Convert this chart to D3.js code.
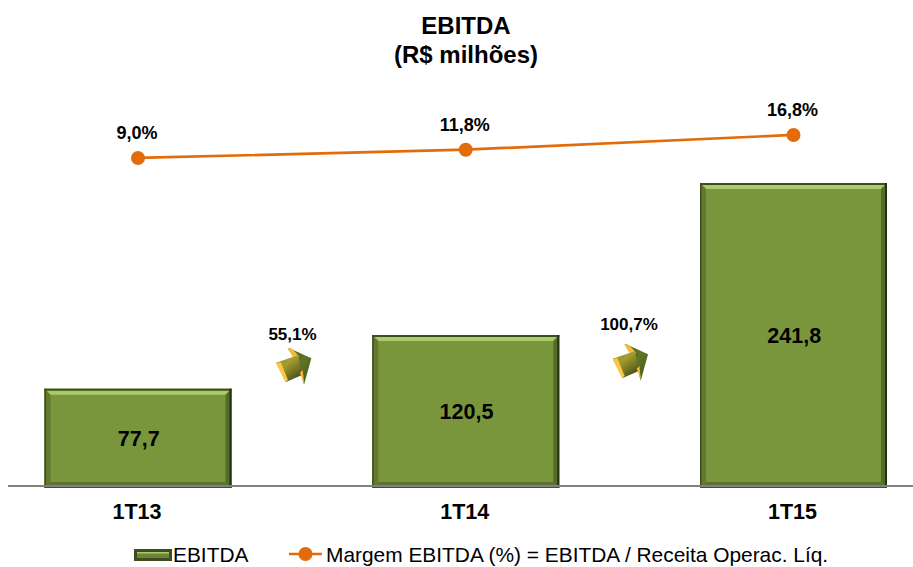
<!DOCTYPE html>
<html><head><meta charset="utf-8">
<script src="https://cdn.jsdelivr.net/npm/d3@7/dist/d3.min.js"></script>
<style>html,body{margin:0;padding:0;background:#fff}svg{display:block}text{font-family:"Liberation Sans",Arial,sans-serif;fill:#000}</style>
</head><body><svg id="c" width="913" height="567"></svg>
<script>
const categories = ["1T13","1T14","1T15"];
const ebitda = [77.7,120.5,241.8];
const ebitdaLabels = ["77,7","120,5","241,8"];
const margin = [9.0,11.8,16.8];
const marginLabels = ["9,0%","11,8%","16,8%"];
const growthLabels = ["55,1%","100,7%"];
const titleLines = ["EBITDA","(R$ milhões)"];
const legendBar = "EBITDA";
const legendLine = "Margem EBITDA (%) = EBITDA / Receita Operac. Líq.";

const svg = d3.select("#c");
const x = d3.scalePoint().domain(categories).range([138,793.5]);
const y = d3.scaleLinear().domain([0,241.8]).range([486,183]);
const y2 = d3.scaleLinear().domain([0,20]).range([184.5,125.5]);
const barW = 187, orange = "#E36C0A", axisY = y(0);

const defs = svg.append("defs");
const g1 = defs.append("linearGradient").attr("id","arrowBody").attr("x1",0).attr("x2",0.7).attr("y1",0).attr("y2",1);
[["0%","#8d8a2c"],["40%","#a59c30"],["75%","#6d6e22"],["100%","#3f4a18"]].forEach(s=>g1.append("stop").attr("offset",s[0]).attr("stop-color",s[1]));
const g2 = defs.append("linearGradient").attr("id","arrowHead").attr("x1",0).attr("x2",1).attr("y1",0).attr("y2",1);
[["0%","#4f5f1c"],["50%","#5f7424"],["100%","#3f5518"]].forEach(s=>g2.append("stop").attr("offset",s[0]).attr("stop-color",s[1]));

function bevelBar(g,left,top,w,h,b){
  const R=left+w,B=top+h;
  const poly=(pts,fill)=>g.append("polygon").attr("points",pts.map(p=>p.join(",")).join(" ")).attr("fill",fill);
  g.append("rect").attr("x",left).attr("y",top).attr("width",w).attr("height",h).attr("fill","#7A963D");
  poly([[left,top],[R,top],[R-b,top+b],[left+b,top+b]],"#A9CB6B");
  poly([[left,B],[R,B],[R-b,B-b],[left+b,B-b]],"#5C722F");
  poly([[left,top],[left+b,top+b],[left+b,B-b],[left,B]],"#64792F");
  poly([[R,top],[R-b,top+b],[R-b,B-b],[R,B]],"#556B2A");
  g.append("line").attr("x1",left).attr("x2",R).attr("y1",top+1).attr("y2",top+1).attr("stroke","#3E4D20").attr("stroke-width",2);
  g.append("line").attr("x1",left+.75).attr("x2",left+.75).attr("y1",top).attr("y2",B).attr("stroke","#3E4D20").attr("stroke-width",1.5);
  g.append("line").attr("x1",R-1).attr("x2",R-1).attr("y1",top).attr("y2",B).attr("stroke","#26310F").attr("stroke-width",2);
  g.append("line").attr("x1",left).attr("x2",R).attr("y1",B-1).attr("y2",B-1).attr("stroke","#454F2C").attr("stroke-width",2);
}

categories.forEach((c,i)=>{
  const top=y(ebitda[i]);
  bevelBar(svg.append("g"),x(c)-barW/2,top,barW,axisY+2-top,6);
});
svg.append("line").attr("x1",8).attr("x2",913).attr("y1",axisY).attr("y2",axisY).attr("stroke","#808080").attr("stroke-width",2);

svg.selectAll(".bl").data(categories).join("text").attr("x",c=>x(c)+.7).attr("y",(c,i)=>(y(ebitda[i])+axisY)/2+8.5)
  .attr("text-anchor","middle").attr("font-size",21.5).attr("font-weight","bold").text((c,i)=>ebitdaLabels[i]);
svg.selectAll(".cat").data(categories).join("text").attr("x",c=>x(c)-1).attr("y",519)
  .attr("text-anchor","middle").attr("font-size",21.5).attr("font-weight","bold").text(c=>c);

const line=d3.line().x((v,i)=>x(categories[i])).y(v=>y2(v));
svg.append("path").attr("d",line(margin)).attr("fill","none").attr("stroke",orange).attr("stroke-width",2.7);
svg.selectAll(".pt").data(margin).join("circle").attr("cx",(v,i)=>x(categories[i])).attr("cy",v=>y2(v)).attr("r",7).attr("fill",orange);
svg.selectAll(".ml").data(margin).join("text").attr("x",(v,i)=>x(categories[i])-1).attr("y",v=>y2(v)-19)
  .attr("text-anchor","middle").attr("font-size",18).attr("font-weight","bold").text((v,i)=>marginLabels[i]);

svg.selectAll(".tt").data(titleLines).join("text").attr("x",466).attr("y",(d,i)=>34+i*29)
  .attr("text-anchor","middle").attr("font-size",24).attr("font-weight","bold").text(d=>d);

// growth arrows between the bars
const arrowSpots=[{tx:260,ty:320,lx:292.5,ly:339.5},{tx:596.7,ty:316,lx:629,ly:330}];
arrowSpots.forEach((s,i)=>{
  const a=svg.append("g").attr("transform",`translate(${s.tx},${s.ty}) scale(${1/3})`);
  const p=(pts,f)=>a.append("polygon").attr("points",pts).attr("fill",f);
  p("85,83 154,115 132,194 120,150 105,112","url(#arrowHead)");
  p("82,85 103,118 118,110 97,86","#F2B93B");
  p("48,128 114,106 128,164 78,186","url(#arrowBody)");
  p("48,130 76,186 84,180 62,126","#FBC744");
  p("120,158 133,194 128,150","#F2B93B");
  svg.append("text").attr("x",s.lx).attr("y",s.ly).attr("text-anchor","middle").attr("font-size",17).attr("font-weight","bold").text(growthLabels[i]);
});

// legend
const lg=svg.append("g");
lg.append("rect").attr("x",134).attr("y",549).attr("width",38).attr("height",12).attr("fill","#3E4D20");
lg.append("rect").attr("x",137).attr("y",552).attr("width",32).attr("height",6).attr("fill","#6C8536");
lg.append("rect").attr("x",137).attr("y",552).attr("width",32).attr("height",1.5).attr("fill","#A9CB6B");
svg.append("text").attr("x",173).attr("y",562).attr("font-size",20.9).text(legendBar);
svg.append("line").attr("x1",289).attr("x2",322).attr("y1",554).attr("y2",554).attr("stroke",orange).attr("stroke-width",2.7);
svg.append("circle").attr("cx",305.5).attr("cy",554).attr("r",7).attr("fill",orange);
svg.append("text").attr("x",326).attr("y",562).attr("font-size",20.9).text(legendLine);
</script></body></html>
